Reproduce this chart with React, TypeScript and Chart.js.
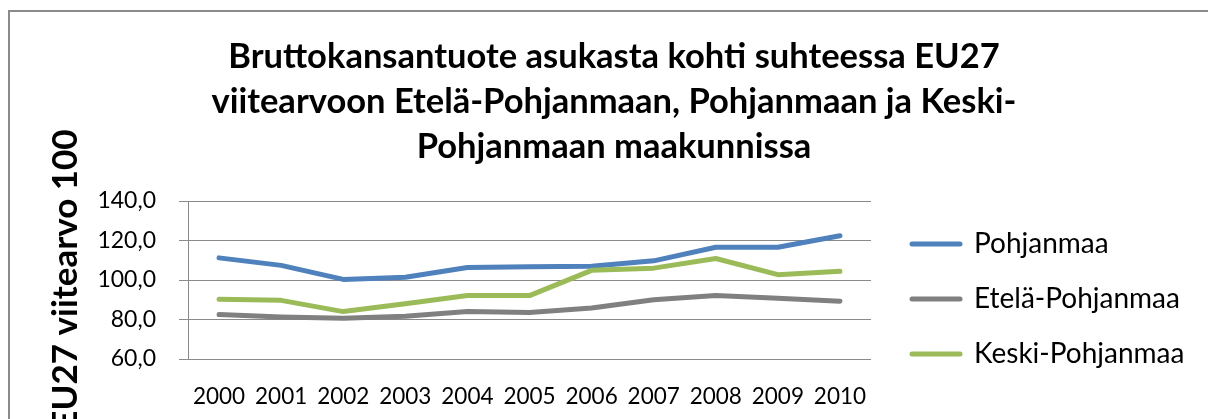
import React, { useEffect, useRef } from 'react';
import { Chart, registerables } from 'chart.js';

Chart.register(...registerables);

const years = ['2000', '2001', '2002', '2003', '2004', '2005', '2006', '2007', '2008', '2009', '2010'];
const seriesNames = ['Pohjanmaa', 'Etelä-Pohjanmaa', 'Keski-Pohjanmaa'];
const pohjanmaa = [111.2, 107.4, 100.3, 101.4, 106.3, 106.7, 107.0, 109.7, 116.6, 116.6, 122.4];
const etelaPohjanmaa = [82.5, 81.3, 80.6, 81.6, 84.0, 83.6, 85.8, 90.0, 92.2, 90.8, 89.3];
const keskiPohjanmaa = [90.2, 89.7, 84.0, 88.0, 92.1, 92.1, 104.9, 106.0, 110.9, 102.7, 104.4];
const seriesColors = ['#4F81BD', '#808080', '#9BBB59'];
const titleLines = [
  'Bruttokansantuote asukasta kohti suhteessa EU27',
  'viitearvoon Etelä-Pohjanmaan, Pohjanmaan ja Keski-',
  'Pohjanmaan maakunnissa',
];
const yAxisTitle = 'EU27 viitearvo 100';
const yMin = 60;
const yMax = 140;
const yStep = 20;

const FONT = 'Lato';
const LEGEND_WIDTH = 329;
const LEGEND_SHIFT = 14;

const framePlugin = {
  id: 'frame',
  beforeDraw(chart: any) {
    const ctx = chart.ctx;
    ctx.save();
    ctx.strokeStyle = '#8a8a8a';
    ctx.lineWidth = 2;
    ctx.beginPath();
    ctx.moveTo(9, chart.height + 5);
    ctx.lineTo(9, 11);
    ctx.lineTo(chart.width + 5, 11);
    ctx.stroke();
    ctx.restore();
  },
};

// Give the legend the full width of the right-hand column (Chart.js caps it otherwise)
const legendFitPlugin = {
  id: 'legendFit',
  beforeLayout(chart: any) {
    const lg = chart.legend;
    if (lg && !lg._widthPatched) {
      const orig = lg.fit.bind(lg);
      lg.fit = function () {
        orig();
        this.width = LEGEND_WIDTH;
      };
      lg._widthPatched = true;
    }
  },
  afterLayout(chart: any) {
    const lg = chart.legend;
    if (lg) {
      lg.left += LEGEND_SHIFT;
      lg.right += LEGEND_SHIFT;
    }
  },
};

export default function App() {
  const ref = useRef<HTMLCanvasElement | null>(null);

  useEffect(() => {
    const canvas = ref.current;
    if (!canvas) return;
    const values = [pohjanmaa, etelaPohjanmaa, keskiPohjanmaa];
    const chart = new Chart(canvas, {
      type: 'line',
      data: {
        labels: years,
        datasets: seriesNames.map((name, i) => ({
          label: name,
          data: values[i],
          borderColor: seriesColors[i],
          backgroundColor: seriesColors[i],
          pointBorderColor: seriesColors[i],
          pointBackgroundColor: seriesColors[i],
          order: 3 - i,
        })),
      },
      options: {
        animation: false,
        responsive: false,
        devicePixelRatio: 1,
        events: [],
        layout: { padding: { left: 28, right: 8, top: 0, bottom: 0 } },
        elements: {
          line: { borderWidth: 5, borderCapStyle: 'round', borderJoinStyle: 'round', tension: 0, fill: false },
          point: { radius: 0, hoverRadius: 0 },
        },
        plugins: {
          title: {
            display: true,
            text: titleLines,
            color: '#000',
            font: { family: FONT, size: 34.5, weight: 'bold', lineHeight: 45 / 34.5 },
            padding: { top: 34, bottom: 32 },
          },
          legend: {
            position: 'right',
            fullSize: true,
            align: 'center',
            title: { display: true, text: '', padding: { top: 167, bottom: 0 }, font: { size: 10, lineHeight: 1.2 } },
            labels: {
              usePointStyle: true,
              pointStyle: 'line',
              pointStyleWidth: 48,
              padding: 27,
              color: '#000',
              font: { family: FONT, size: 28 },
              sort: (a: any, b: any) => a.datasetIndex - b.datasetIndex,
              generateLabels: (c: any) =>
                Chart.defaults.plugins.legend.labels
                  .generateLabels(c)
                  .map((l: any) => ({ ...l, lineWidth: 5, lineCap: 'round' })),
            },
          },
          tooltip: { enabled: false },
        },
        scales: {
          x: {
            offset: true,
            grid: { display: false, drawTicks: false, offset: true },
            border: { display: false },
            ticks: { color: '#000', font: { family: FONT, size: 22.5 }, padding: 24, maxRotation: 0, autoSkip: false },
            afterFit: (s: any) => {
              s.height = 60;
            },
          },
          y: {
            min: yMin,
            max: yMax,
            ticks: {
              stepSize: yStep,
              padding: 23,
              color: '#000',
              font: { family: FONT, size: 23 },
              callback: (v: any) => Number(v).toFixed(1).replace('.', ','),
            },
            grid: { color: '#8a8a8a', lineWidth: 1, tickLength: 9, drawTicks: true },
            border: { display: true, color: '#8a8a8a', width: 1 },
            title: {
              display: true,
              text: yAxisTitle,
              color: '#000',
              font: { family: FONT, size: 35, weight: 'bold', lineHeight: 1.2 },
              padding: { top: 17, bottom: 0 },
            },
            afterFit: (s: any) => {
              s.width = 160;
            },
          },
        },
      },
      plugins: [framePlugin, legendFitPlugin],
    } as any);
    return () => chart.destroy();
  }, []);

  return (
    <div style={{ position: 'fixed', left: 0, top: 0, width: 1208, height: 419, background: '#fff' }}>
      <canvas ref={ref} width={1208} height={419} style={{ display: 'block', width: 1208, height: 419 }} />
    </div>
  );
}
